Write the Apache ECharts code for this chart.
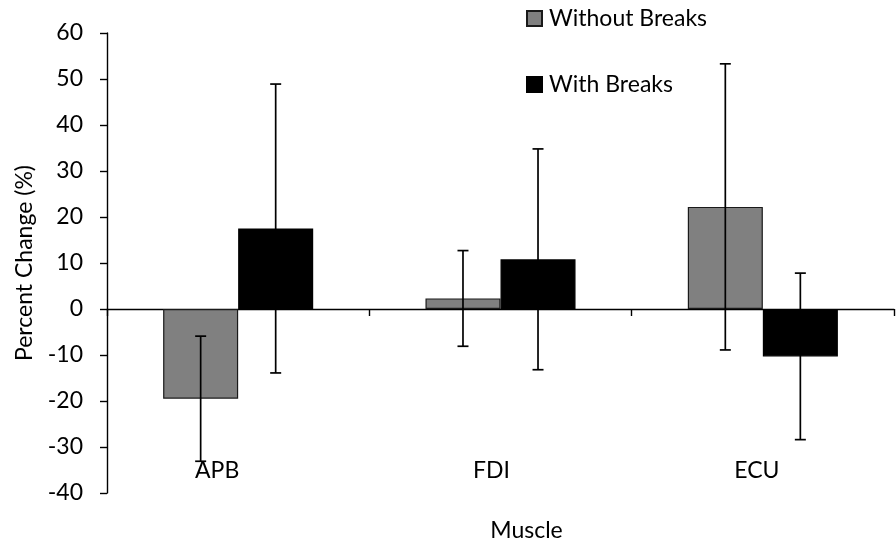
<!DOCTYPE html>
<html>
<head>
<meta charset="utf-8">
<script src="https://cdn.jsdelivr.net/npm/echarts@6/dist/echarts.min.js"></script>
<style>
  html, body { margin: 0; padding: 0; background: #fff; }
  #chart { width: 896px; height: 548px; }
</style>
</head>
<body>
<div id="chart"></div>
<script>
// Muscles measured
const muscles = ['APB', 'FDI', 'ECU'];
// Mean percent change per condition
const withoutBreaks = [-19.5, 2.3, 22.2];
const withBreaks = [17.5, 10.8, -10.3];
// Error bar half-widths (percent)
const errWithout = [13.6, 10.4, 31.1];
const errWith = [31.4, 24.0, 18.1];
// Y axis range and tick step
const yMin = -40, yMax = 60, yStep = 10;

const FONT = 'Lato, "Open Sans", sans-serif';
const FS = 23;
const CAT_GAP = 0.428; // fraction of category band left empty around the bar pair

// Label nudges so each category name sits where Excel put it
const labelShift = { APB: 21, FDI: 9, ECU: 6 };

function errorData(vals, errs) {
  return vals.map((v, i) => [i, v - errs[i], v + errs[i]]);
}

function errorSeries(name, data, side) {
  return {
    type: 'custom',
    name: name + ' error',
    xAxisIndex: 0,
    z: 10,
    silent: true,
    data: data,
    encode: { x: 0, y: [1, 2] },
    renderItem: function (params, api) {
      const cat = api.value(0);
      const lo = api.coord([cat, api.value(1)]);
      const hi = api.coord([cat, api.value(2)]);
      const band = api.size([1, 0])[0];
      const barW = band * (1 - CAT_GAP) / 2;
      const x = lo[0] + side * barW / 2;
      const cap = 5.5;
      const style = { stroke: '#000', lineWidth: 1.7, fill: null };
      return {
        type: 'group',
        children: [
          { type: 'line', shape: { x1: x, y1: lo[1], x2: x, y2: hi[1] }, style: style },
          { type: 'line', shape: { x1: x - cap, y1: lo[1], x2: x + cap, y2: lo[1] }, style: style },
          { type: 'line', shape: { x1: x - cap, y1: hi[1], x2: x + cap, y2: hi[1] }, style: style }
        ]
      };
    }
  };
}

const chart = echarts.init(document.getElementById('chart'), null, { renderer: 'canvas' });

const rich = {};
muscles.forEach(m => {
  rich[m] = {
    fontFamily: FONT, fontSize: FS, color: '#000',
    padding: [0, labelShift[m] * 2, 0, 0]
  };
});

chart.setOption({
  animation: false,
  backgroundColor: '#fff',
  textStyle: { fontFamily: FONT },
  grid: { left: 107, right: 2, top: 33, bottom: 55, containLabel: false },
  legend: {
    orient: 'vertical',
    left: 521,
    top: 2,
    itemWidth: 15,
    itemHeight: 15,
    itemGap: 43,
    icon: 'rect',
    textStyle: { fontFamily: FONT, fontSize: FS, color: '#000', padding: [0, 0, 0, 2] },
    data: ['Without Breaks', 'With Breaks']
  },
  xAxis: [
    {
      // zero line with category boundary ticks
      type: 'category',
      data: muscles,
      axisLine: { onZero: true, lineStyle: { color: '#000', width: 1.4 } },
      axisTick: { show: true, length: 7, lineStyle: { color: '#000', width: 1.4 } },
      axisLabel: { show: false },
      splitLine: { show: false }
    },
    {
      // category names and axis title along the bottom
      type: 'category',
      data: muscles,
      position: 'bottom',
      axisLine: { show: false, onZero: false },
      axisTick: { show: false },
      axisLabel: {
        inside: true,
        margin: 11,
        formatter: v => '{' + v + '|' + v + '}',
        rich: rich
      },
      name: 'Muscle',
      nameLocation: 'middle',
      nameGap: 26,
      nameTextStyle: { fontFamily: FONT, fontSize: FS, color: '#000', padding: [0, 0, 0, 52] }
    }
  ],
  yAxis: {
    type: 'value',
    min: yMin,
    max: yMax,
    interval: yStep,
    axisLine: { show: true, lineStyle: { color: '#000', width: 1.4 } },
    axisTick: { show: true, length: 7, lineStyle: { color: '#000', width: 1.4 } },
    axisLabel: { fontFamily: FONT, fontSize: FS, color: '#000', margin: 24 },
    splitLine: { show: false },
    name: 'Percent Change (%)',
    nameLocation: 'middle',
    nameRotate: 90,
    nameGap: 71,
    nameTextStyle: { fontFamily: FONT, fontSize: FS, color: '#000' }
  },
  series: [
    {
      type: 'bar',
      name: 'Without Breaks',
      xAxisIndex: 0,
      data: withoutBreaks,
      barGap: '0%',
      barCategoryGap: (CAT_GAP * 100) + '%',
      itemStyle: { color: '#808080', borderColor: '#1a1a1a', borderWidth: 1.2 }
    },
    {
      type: 'bar',
      name: 'With Breaks',
      xAxisIndex: 0,
      data: withBreaks,
      barGap: '0%',
      barCategoryGap: (CAT_GAP * 100) + '%',
      itemStyle: { color: '#000000', borderColor: '#000', borderWidth: 1.2 }
    },
    errorSeries('Without Breaks', errorData(withoutBreaks, errWithout), -1),
    errorSeries('With Breaks', errorData(withBreaks, errWith), 1)
  ]
});
</script>
</body>
</html>
